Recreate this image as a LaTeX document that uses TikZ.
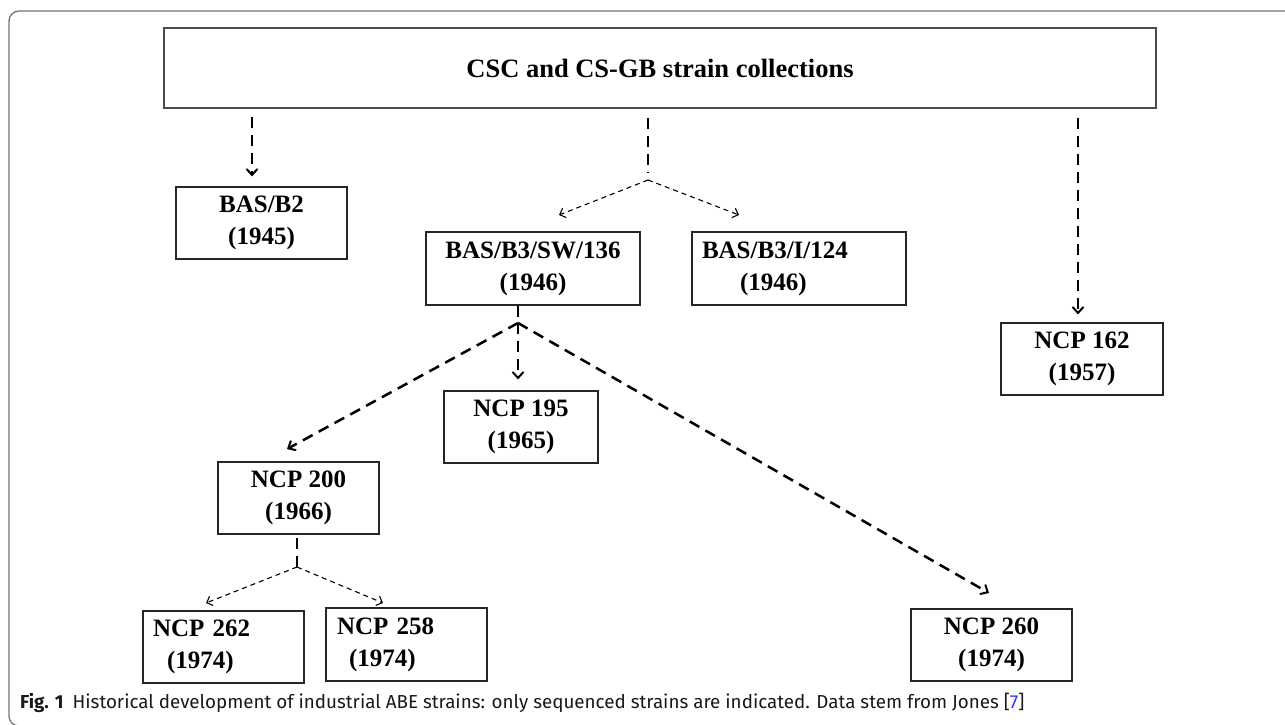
\documentclass[tikz,border=0pt]{standalone}
\usepackage{fontspec}
\setmainfont{Liberation Serif}
\newfontfamily\capfont{Fira Sans}
\usetikzlibrary{arrows.meta}

\begin{document}
\begin{tikzpicture}
  [x=1pt,y=-1pt,
   strain/.style={draw=black!85,line width=1.2pt,minimum height=72pt,inner sep=0pt,
     align=center,font=\fontsize{25}{32}\selectfont\bfseries},
   link/.style={line width=2.5pt,dash pattern=on 11pt off 7pt,
     -{Straight Barb[length=6pt,width=11pt,line width=2pt]}},
   sublink/.style={line width=1.1pt,dash pattern=on 5pt off 4pt,
     -{Straight Barb[length=5pt,width=10pt,line width=1.1pt]}}]

  \useasboundingbox (0,0) rectangle (1285,724);
  \draw[black!55,line width=1.3pt,rounded corners=10pt] (1300,11) -- (9,11) -- (9,726) -- (1300,726);

  \node[strain,draw=black!70,line width=1.5pt,minimum width=992pt,minimum height=80pt,
    font=\fontsize{26.5}{30}\selectfont\bfseries] (csc) at (660,68) {CSC and CS-GB strain collections};
  \node[strain,minimum width=171pt] (b2) at (261.5,223) {BAS/B2\\(1945)};
  \node[strain,minimum width=214pt,minimum height=73pt] (sw136) at (533,268.5) {BAS/B3/SW/136\\(1946)};
  \node[strain,minimum width=214pt,minimum height=73pt,text width=194pt,align=left] (i124) at (799,268.5) {BAS/B3/I/124\\\hspace*{38pt}(1946)};
  \node[strain,minimum width=162pt] (n162) at (1082,359) {NCP 162\\(1957)};
  \node[strain,minimum width=154pt] (n195) at (521,427) {NCP 195\\(1965)};
  \node[strain,minimum width=161pt] (n200) at (298.5,498) {NCP 200\\(1966)};
  \node[strain,minimum width=161pt,text width=141pt,align=left] (n262) at (223.5,647) {NCP 262\\\hspace*{14pt}(1974)};
  \node[strain,minimum width=161pt,minimum height=73pt,text width=139pt,align=left] (n258) at (406.5,644.5) {NCP 258\\\hspace*{12pt}(1974)};
  \node[strain,minimum width=161pt] (n260) at (991.5,645) {NCP 260\\(1974)};

  \coordinate (d1) at (252,108);
  \coordinate (d2) at (1078,108);
  \coordinate (fork1) at (648,180);
  \coordinate (fork2) at (518,323);
  \coordinate (fork3) at (297,567);
  \coordinate (tip1) at (559,215);
  \coordinate (tip2) at (739,215);
  \coordinate (tip3) at (287,449);
  \coordinate (tip4) at (989,593);
  \coordinate (tip5) at (206,603);
  \coordinate (tip6) at (383,603);

  \draw[link,shorten <=9pt,shorten >=10pt] (d1) -- (d1 |- b2.north);
  \draw[link,shorten <=10pt,shorten >=8pt] (d2) -- (d2 |- n162.north);
  \draw[link,-,shorten <=9pt,shorten >=8pt] (fork1 |- csc.south) -- (fork1);
  \draw[link,-] (fork2 |- sw136.south) -- (fork2);
  \draw[link,shorten >=11pt] (fork2) -- (fork2 |- n195.north);
  \draw[link,-,shorten <=3pt] (fork3 |- n200.south) -- (fork3);

  \foreach \from/\to in {fork2/tip3,fork2/tip4}
    \draw[link] (\from) -- (\to);
  \foreach \from/\to in {fork1/tip1,fork1/tip2,fork3/tip5,fork3/tip6}
    \draw[sublink] (\from) -- (\to);

  \node[anchor=base west,inner sep=0pt,text=black!90,font=\capfont\fontsize{18.8}{22}\selectfont] (cap) at (20,708)
    {\textbf{Fig. 1}\hspace{9pt}Historical development of industrial ABE strains: only sequenced strains are indicated. Data stem from Jones [{\color{blue!80}7}]};

\end{tikzpicture}
\end{document}
